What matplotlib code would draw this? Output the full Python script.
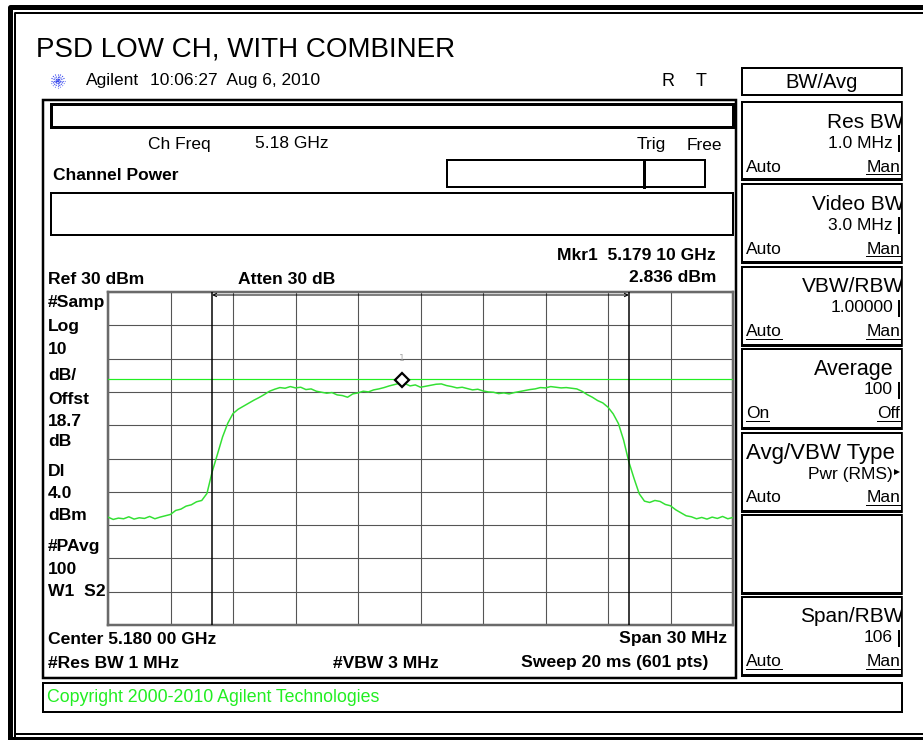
import matplotlib.pyplot as plt
import numpy as np
from matplotlib.patches import Rectangle

W, H = 923, 740

title = "PSD LOW CH, WITH COMBINER"
ref_level = 30        # dBm, top of screen
db_per_div = 10
span_mhz = 30
display_line = 4.0    # DI level, dBm
mkr_offset_mhz = 14.1  # 5.179 10 GHz from the 5.165 GHz start
mkr_level = 2.836
chan_edges_mhz = [5.0, 25.0]

# averaged trace, every 0.25 MHz (0..30 MHz of span)
trace_dbm = [
    -37.6, -38.3, -37.9, -38.1, -37.5, -38.2, -37.8, -38.0, -37.4, -38.1,
    -37.6, -37.2, -36.8, -35.6, -35.2, -34.3, -33.9, -33.0, -32.6, -30.5,
    -24.0, -18.8, -13.5, -9.4, -6.5, -5.2, -4.3, -3.4, -2.5, -1.7,
    -0.8, 0.2, 0.8, 1.3, 1.1, 1.6, 1.2, 1.4, 0.7, 0.9,
    0.2, -0.1, -0.4, -0.2, -0.9, -1.1, -1.6, -0.6, -0.3, 0.2,
    0.0, 0.6, 0.9, 1.3, 1.8, 2.2, 2.6, 2.5, 1.8, 2.1,
    1.4, 1.7, 2.0, 2.3, 2.4, 1.9, 1.6, 1.2, 1.4, 1.0,
    0.6, 0.8, 0.3, 0.0, -0.1, -0.5, -0.3, -0.6, -0.2, 0.1,
    0.4, 0.7, 0.9, 1.3, 1.2, 1.6, 1.4, 1.2, 1.3, 1.1,
    0.9, 0.2, -0.8, -1.6, -2.6, -3.3, -4.6, -6.6, -9.5, -14.5,
    -21.0, -26.0, -30.6, -32.8, -33.2, -32.6, -32.9, -33.8, -34.2, -35.4,
    -36.3, -37.2, -37.5, -38.1, -37.7, -38.2, -37.6, -38.0, -37.4, -38.1,
    -37.7,
]

left_labels = ["#Samp", "Log", "10", "dB/", "Offst", "18.7", "dB", "Dl",
               "4.0", "dBm", "#PAvg", "100", "W1  S2"]
left_label_y = [302, 326, 349, 375, 399, 421, 442, 471, 494, 516, 546, 569, 592]

# softkeys: (top, bottom, title, value, left option, right option, underlined)
softkeys = [
    (102, 179, "Res BW", "1.0 MHz", "Auto", "Man", (False, True)),
    (184, 262, "Video BW", "3.0 MHz", "Auto", "Man", (False, True)),
    (267, 345, "VBW/RBW", "1.00000", "Auto", "Man", (True, True)),
    (349, 428, "Average", "100", "On", "Off", (True, True)),
    (433, 511, "Avg/VBW Type", "Pwr (RMS)", "Auto", "Man", (False, True)),
    (515, 593, "", "", "", "", (False, False)),
    (597, 675, "Span/RBW", "106", "Auto", "Man", (True, True)),
]

SANS = ['Liberation Sans', 'DejaVu Sans']
PX = 0.72  # points per pixel at dpi 100
BOLD_SIZE = 12.6

fig = plt.figure(figsize=(W / 100, H / 100), dpi=100)
ov = fig.add_axes([0, 0, 1, 1])
ov.set_xlim(0, W)
ov.set_ylim(H, 0)
ov.axis('off')


def box(x0, y0, x1, y1, lw=2, color='black', z=2):
    ov.add_patch(Rectangle((x0, y0), x1 - x0, y1 - y0, fill=False,
                           lw=lw * PX, ec=color, zorder=z))


def txt(x, y, s, size=BOLD_SIZE, bold=True, ha='left', color='black'):
    return ov.text(x, y, s, fontsize=size, fontweight='bold' if bold else 'normal',
                   ha=ha, va='center', family=SANS, color=color, zorder=5)


renderer = fig.canvas.get_renderer()


def underline(t):
    bb = t.get_window_extent(renderer=renderer)
    x0, y0 = ov.transData.inverted().transform((bb.x0, bb.y0))
    x1, _ = ov.transData.inverted().transform((bb.x1, bb.y0))
    ov.plot([x0, x1], [y0 - 1, y0 - 1], color='black', lw=1 * PX, zorder=5)


# outer double frame
ov.plot([9.5, 9.5, W + 5], [H + 5, 7, 7], color='black', lw=5 * PX, solid_capstyle='butt')
ov.plot([9.5, W + 5], [738.5, 738.5], color='black', lw=4 * PX)
ov.plot([14.5, 14.5, W + 5], [H + 5, 13, 13], color='black', lw=2 * PX)
ov.plot([14.5, W + 5], [734, 734], color='black', lw=2 * PX)

# header
ov.text(36, 50, title, fontsize=20, family=SANS, va='center', ha='left')
for a in np.arange(0, 180, 22.5):
    r = 7
    ov.plot([58 - r * np.cos(np.radians(a)), 58 + r * np.cos(np.radians(a))],
            [81 - r * np.sin(np.radians(a)), 81 + r * np.sin(np.radians(a))],
            color='#3344ee', lw=0.8, ls=(0, (1, 1)))
txt(86, 81, "Agilent", size=12.5, bold=False)
txt(150, 81, "10:06:27  Aug 6, 2010", size=12.5, bold=False)
txt(668, 82, "R", size=13, bold=False, ha='center')
txt(701, 82, "T", size=13, bold=False, ha='center')

# main panel
box(43, 100, 736, 678, lw=2.5)
box(51, 104, 733, 127, lw=3)
txt(148, 144, "Ch Freq", bold=False, size=12.5)
txt(255, 144, "5.18 GHz", bold=False, size=12.5)
txt(637, 145, "Trig", bold=False, size=12.5)
txt(722, 145, "Free", bold=False, size=12.5, ha='right')
txt(53, 175, "Channel Power", size=12.5)
box(447, 160, 705, 187, lw=2)
ov.plot([644, 644], [160, 187], color='black', lw=3 * PX)
box(51, 193, 733, 235, lw=2)
txt(716, 256, "Mkr1  5.179 10 GHz", ha='right')
txt(716, 278, "2.836 dBm", ha='right')
txt(48, 279, "Ref 30 dBm")
txt(238, 279, "Atten 30 dB")
for s, y in zip(left_labels, left_label_y):
    txt(48, y, s)
txt(48, 639, "Center 5.180 00 GHz")
txt(727, 639, "Span 30 MHz", ha='right')
txt(48, 663, "#Res BW 1 MHz")
txt(333, 663, "#VBW 3 MHz")
txt(708, 663, "Sweep 20 ms (601 pts)", ha='right')

# copyright bar
box(43, 683, 902, 712, lw=2)
txt(47, 698, "Copyright 2000-2010 Agilent Technologies", size=12.8, bold=False,
    color='#22ee22')

# softkey column
box(742, 68, 902, 95, lw=2)
txt(822, 82, "BW/Avg", size=14.5, bold=False, ha='center')
for top, bot, name, val, lo, ro, ul in softkeys:
    box(742, top, 902, bot, lw=2)
    ov.plot([742, 902, 902], [bot, bot, top], color='black', lw=3 * PX)
    if name:
        if name.startswith("Avg/"):
            txt(746, top + 20, name, size=16, bold=False)
        elif name == "Average":
            txt(894, top + 20, name, size=15.5, bold=False, ha='right')
        else:
            txt(904, top + 20, name, size=15, bold=False, ha='right')
        txt(893, top + 41, val, size=12.5, bold=False, ha='right')
        if name.startswith("Avg/"):
            ov.plot([897], [top + 39], marker='>', ms=4, color='black', mew=0)
        else:
            ov.plot([899, 899], [top + 34, top + 49], color='black', lw=2 * PX)
        t1 = txt(746, top + 65, lo, size=12.5, bold=False)
        t2 = txt(900, top + 65, ro, size=12.5, bold=False, ha='right')
        if ul[0]:
            underline(t1)
        if ul[1]:
            underline(t2)
# hide text spilling past the softkey column
ov.add_patch(Rectangle((903, 60), 20, 620, color='white', zorder=6))

# graticule
ax = fig.add_axes([108 / W, 1 - 625 / H, 625 / W, 333 / H])
ax.set_xlim(0, span_mhz)
ax.set_ylim(ref_level - 10 * db_per_div, ref_level)
ax.set_xticks(np.arange(0, span_mhz + 1, 3))
ax.set_yticks(np.arange(ref_level - 10 * db_per_div, ref_level + 1, db_per_div))
ax.tick_params(length=0, labelbottom=False, labelleft=False)
ax.grid(True, color='#555555', lw=1.1 * PX)
for sp in ax.spines.values():
    sp.set_color('#6a6a6a')
    sp.set_linewidth(2.5 * PX)
ax.set_facecolor('white')

freq = np.linspace(0, span_mhz, len(trace_dbm))
ax.axhline(display_line, color='#22ee22', lw=1.2 * PX, zorder=3)
ax.plot(freq, trace_dbm, color='#33e033', lw=1.5 * PX, zorder=4)
for f in chan_edges_mhz:
    ax.axvline(f, color='black', lw=1.5 * PX, zorder=5)
ax.annotate("", xy=(chan_edges_mhz[0], 29.1), xytext=(chan_edges_mhz[1], 29.1),
            arrowprops=dict(arrowstyle='<->', color='black', lw=1 * PX,
                            mutation_scale=6, shrinkA=0, shrinkB=0), zorder=6)
ax.plot([mkr_offset_mhz], [mkr_level + 0.8], marker='D', ms=7, mfc='white',
        mec='black', mew=1.6, zorder=7, clip_on=False)
ax.text(mkr_offset_mhz, mkr_level + 7.2, "1", fontsize=6.5, color='#aaaaaa',
        ha='center', va='center', zorder=7)

fig.savefig("out.png", dpi=100)
